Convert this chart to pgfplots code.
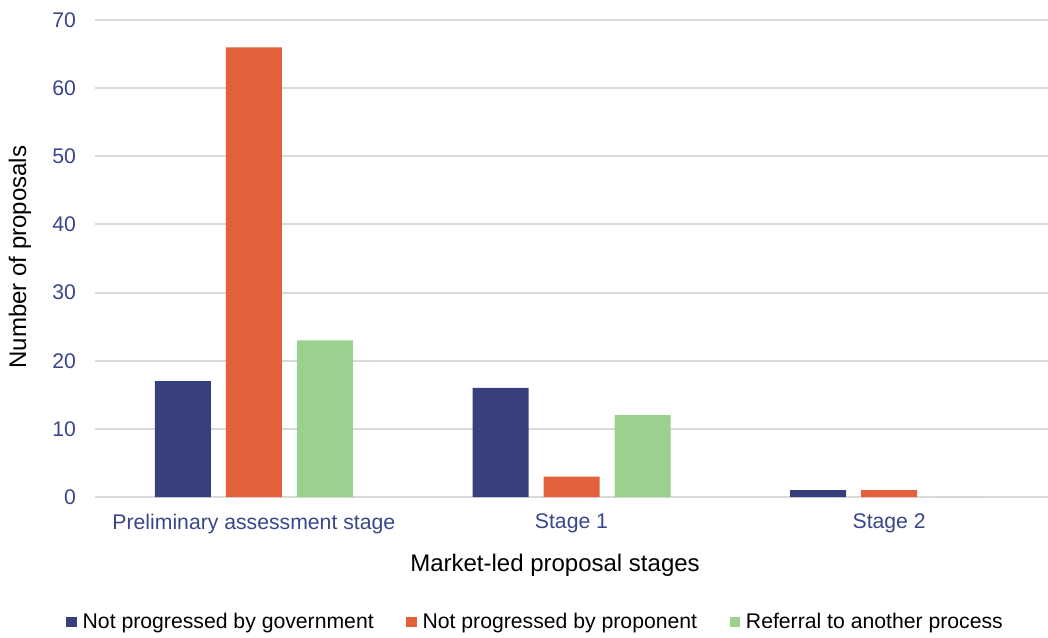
\documentclass[border=0pt]{standalone}
\usepackage{pgfplots}
\pgfplotsset{compat=1.18}
\usepackage{fontspec}
\setmainfont{Liberation Sans}
\definecolor{cnavy}{RGB}{55,63,125}
\definecolor{corange}{RGB}{226,96,58}
\definecolor{cgreen}{RGB}{155,209,143}
\definecolor{ctick}{RGB}{58,70,138}
\definecolor{cgrid}{RGB}{217,217,217}
\begin{document}
\begin{tikzpicture}[x=0.5pt,y=0.5pt]
\useasboundingbox (0,0) rectangle (1048,637);
\begin{axis}[
  at={(95pt*0.5,140pt*0.5)}, anchor=south west,
  scale only axis,
  width=476.5pt, height=238.5pt,
  ybar=7.5pt, bar width=28pt,
  xmin=-0.5, xmax=2.5, ymin=0, ymax=70,
  xtick={0,1,2},
  xticklabels={Preliminary assessment stage, Stage 1, Stage 2},
  ytick={0,10,...,70},
  major tick length=0pt,
  axis line style={draw=none},
  ymajorgrids, grid style={cgrid, line width=1pt},
  tick label style={font=\fontsize{10.6}{12}\selectfont, text=ctick},
  /pgf/number format/assume math mode=true,
  xticklabel style={yshift=-5pt},
  yticklabel style={xshift=-6pt},
  xlabel={Market-led proposal stages},
  ylabel={Number of proposals},
  label style={font=\fontsize{12}{14}\selectfont},
  xlabel style={at={(axis description cs:0.4827,-0.1426)}, anchor=center},
  ylabel style={at={(axis description cs:-0.0787,0.503)}, anchor=center, rotate=0},
  legend style={at={(axis description cs:0.4625,-0.262)}, anchor=center, draw=none,
    font=\fontsize{10.6}{12}\selectfont, column sep=0pt,
    nodes={inner sep=1.2pt},
    /tikz/every odd column/.append style={column sep=0pt},
    /tikz/every even column/.append style={column sep=15pt}},
  legend columns=3,
  legend image code/.code={\fill[#1] (0pt,-2.6pt) rectangle (5.4pt,2.6pt); \path (7pt,0pt);},
  legend cell align=left,
]
\addplot[fill=cnavy, draw=none] coordinates {(0,17) (1,16) (2,1)};
\addplot[fill=corange, draw=none] coordinates {(0,66) (1,3) (2,1)};
\addplot[fill=cgreen, draw=none] coordinates {(0,23) (1,12) (2,0)};
\legend{Not progressed by government, Not progressed by proponent, Referral to another process}
\end{axis}
\end{tikzpicture}
\end{document}
